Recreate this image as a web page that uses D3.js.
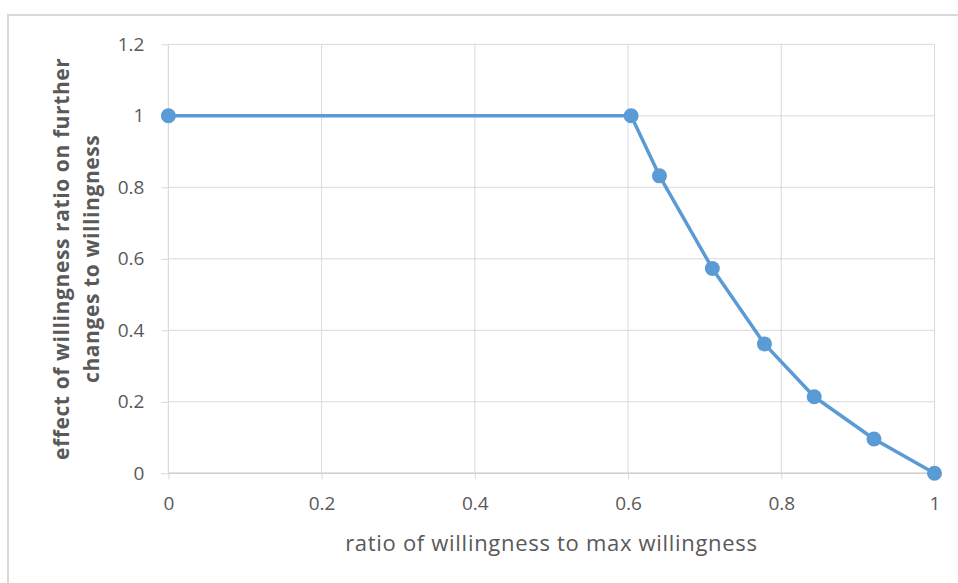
<!DOCTYPE html>
<html>
<head>
<meta charset="utf-8">
<script src="https://cdn.jsdelivr.net/npm/d3@7"></script>
<style>
  html, body { margin: 0; padding: 0; background: #fff; }
  svg { display: block; }
</style>
</head>
<body>
<svg id="chart" width="958" height="583"></svg>
<script>
// Willingness ratio (x) vs. its effect on further changes to willingness (y)
const ratio  = [0, 0.604, 0.641, 0.710, 0.778, 0.843, 0.921, 1];
const effect = [1, 1, 0.832, 0.573, 0.362, 0.214, 0.096, 0];
const xTicks = [0, 0.2, 0.4, 0.6, 0.8, 1];
const yTicks = [0, 0.2, 0.4, 0.6, 0.8, 1, 1.2];
const xTitle = "ratio of willingness to max willingness";
const yTitleLines = ["effect of willingness ratio on further", "changes to willingness"];

const svg = d3.select("#chart");
const W = 958, H = 583;
const plot = { left: 168.4, right: 934.5, top: 44.3, bottom: 473.3 };

const x = d3.scaleLinear().domain([0, 1]).range([plot.left, plot.right]);
const y = d3.scaleLinear().domain([0, 1.2]).range([plot.bottom, plot.top]);

const fontFam = '"Open Sans", "Noto Sans", sans-serif';
const textCol = "#595959";
const gridCol = "#d9d9d9";

// chart frame
svg.append("rect")
  .attr("x", 8).attr("y", 15)
  .attr("width", W).attr("height", H)
  .attr("fill", "#fff")
  .attr("stroke", gridCol).attr("stroke-width", 2);

// gridlines
svg.append("g").selectAll("line").data(yTicks).join("line")
  .attr("x1", plot.left).attr("x2", plot.right)
  .attr("y1", d => y(d)).attr("y2", d => y(d))
  .attr("stroke", gridCol).attr("stroke-width", 1);
svg.append("g").selectAll("line").data(xTicks).join("line")
  .attr("x1", d => x(d)).attr("x2", d => x(d))
  .attr("y1", plot.top).attr("y2", plot.bottom)
  .attr("stroke", gridCol).attr("stroke-width", 1);

// axes
const xAxis = svg.append("g")
  .attr("transform", `translate(0,${plot.bottom})`)
  .call(d3.axisBottom(x).tickValues(xTicks).tickFormat(d3.format("")).tickSize(6).tickPadding(17));
const yAxis = svg.append("g")
  .attr("transform", `translate(${plot.left},0)`)
  .call(d3.axisLeft(y).tickValues(yTicks).tickFormat(d3.format("")).tickSize(7).tickPadding(17));

[xAxis, yAxis].forEach(a => {
  a.selectAll(".tick line").attr("stroke", gridCol).attr("stroke-width", 1);
  a.selectAll(".tick text").attr("fill", textCol)
    .attr("font-size", 19).attr("font-family", fontFam);
});
yAxis.select(".domain").attr("stroke", gridCol).attr("stroke-width", 1)
  .attr("d", `M0,${plot.top}V${plot.bottom}`);
xAxis.select(".domain").attr("stroke", "#cfcfcf").attr("stroke-width", 1.5)
  .attr("d", `M${plot.left},0H${plot.right}`);

// series line and markers
const pts = ratio.map((r, i) => [r, effect[i]]);
svg.append("path")
  .datum(pts)
  .attr("fill", "none")
  .attr("stroke", "#5b9bd5")
  .attr("stroke-width", 3.5)
  .attr("stroke-linejoin", "round")
  .attr("d", d3.line().x(d => x(d[0])).y(d => y(d[1])));
svg.append("g").selectAll("circle").data(pts).join("circle")
  .attr("cx", d => x(d[0])).attr("cy", d => y(d[1]))
  .attr("r", 7.5)
  .attr("fill", "#5b9bd5");

// axis titles
svg.append("text")
  .attr("x", (plot.left + plot.right) / 2).attr("y", 551)
  .attr("text-anchor", "middle")
  .attr("font-family", fontFam).attr("font-size", 22)
  .attr("letter-spacing", 0.7)
  .attr("fill", textCol)
  .text(xTitle);

const yt = svg.append("text")
  .attr("transform", `translate(0,${(plot.top + plot.bottom) / 2}) rotate(-90)`)
  .attr("text-anchor", "middle")
  .attr("font-family", fontFam).attr("font-size", 21).attr("font-weight", "bold")
  .attr("letter-spacing", 0.6)
  .attr("fill", textCol);
yt.selectAll("tspan").data(yTitleLines).join("tspan")
  .attr("x", 0)
  .attr("y", (d, i) => 69 + i * 30)
  .text(d => d);
</script>
</body>
</html>
